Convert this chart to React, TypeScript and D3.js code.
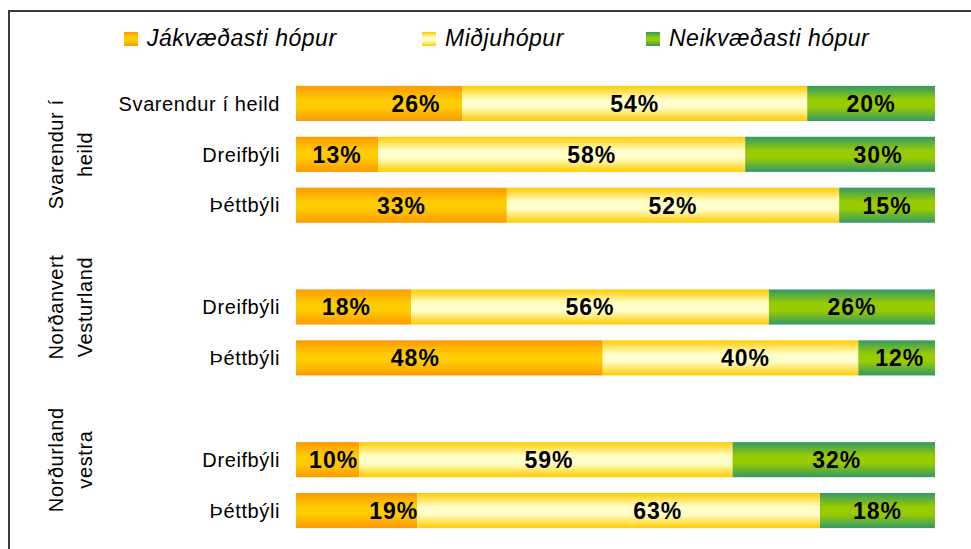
import React from "react";
import * as d3 from "d3";

const rowLabels = ["Svarendur í heild", "Dreifbýli", "Þéttbýli", "", "Dreifbýli", "Þéttbýli", "", "Dreifbýli", "Þéttbýli"];
const seriesNames = ["Jákvæðasti hópur", "Miðjuhópur", "Neikvæðasti hópur"];
const positive = [26, 13, 33, null, 18, 48, null, 10, 19];
const middle = [54, 58, 52, null, 56, 40, null, 59, 63];
const negative = [20, 30, 15, null, 26, 12, null, 32, 18];
const groupLabels = [["Svarendur í", "heild"], ["Norðanvert", "Vesturland"], ["Norðurland", "vestra"]];
const groupRows = [[0, 2], [3, 5], [6, 8]];

// manual label nudges (px) seen in the reference
const LABEL_NUDGE = [
  [37, 0, 0], [0, 30, 38], [0, 0, 0], [0, 0, 0], [-7, 0, 0],
  [-34, 15, 3], [0, 0, 0], [6, 3, 3], [37, 39, 0],
];

const W = 971, H = 549;
const FONT = "'Liberation Sans', Arial, Helvetica, sans-serif";
const gradIds = ["gOrange", "gYellow", "gGreen"];
const gradColors = [["#FF9900", "#FFCC00"], ["#FFCC00", "#FFFFCC"], ["#339966", "#99CC00"]];

export default function App() {
  const x = d3.scaleLinear().domain([0, 1]).range([296, 935]);
  const y = d3.scaleBand<number>().domain(d3.range(rowLabels.length)).range([78, 536]).paddingInner(0.31).paddingOuter(0.155);

  const table = rowLabels.map((_, i) => ({ i, a: positive[i] ?? 0, b: middle[i] ?? 0, c: negative[i] ?? 0 }));
  const stack = d3.stack<any>().keys(["a", "b", "c"]).offset(d3.stackOffsetExpand);
  const layers = stack(table.filter(d => positive[d.i] != null));
  const valuesBySeries = [positive, middle, negative];

  const legendSq = [124, 422, 646];

  return (
    <svg width={W} height={H} style={{ position: "absolute", left: 0, top: 0 }} fontFamily={FONT}>
      <defs>
        {gradIds.map((id, k) => (
          <linearGradient key={id} id={id} x1="0" y1="0" x2="0" y2="1">
            <stop offset="0" stopColor={gradColors[k][0]} />
            <stop offset="0.4" stopColor={gradColors[k][1]} />
            <stop offset="0.6" stopColor={gradColors[k][1]} />
            <stop offset="1" stopColor={gradColors[k][0]} />
          </linearGradient>
        ))}
      </defs>
      <rect x={0} y={0} width={W} height={H} fill="#fff" />
      <rect x={9} y={11} width={1000} height={600} fill="none" stroke="#3a3a3a" strokeWidth={2} />

      {/* legend */}
      {seriesNames.map((s, k) => (
        <g key={s}>
          <rect x={legendSq[k]} y={32} width={14} height={14} fill={`url(#${gradIds[k]})`} />
          <text x={legendSq[k] + 23} y={46} fontSize={23} fontStyle="italic" letterSpacing={0.5} fill="#000">{s}</text>
        </g>
      ))}

      {/* bars */}
      {layers.map((layer, k) =>
        layer.map((seg: any) => {
          const i = seg.data.i;
          const x0 = x(seg[0]), x1 = x(seg[1]);
          const yy = y(i)!;
          const v = valuesBySeries[k][i];
          return (
            <g key={`${k}-${i}`}>
              <rect x={x0} y={yy} width={x1 - x0} height={y.bandwidth()} fill={`url(#${gradIds[k]})`} />
              <text x={(x0 + x1) / 2 + LABEL_NUDGE[i][k]} y={yy + y.bandwidth() / 2} dy="0.36em" textAnchor="middle"
                fontSize={23} fontWeight="bold" letterSpacing={1} fill="#000">{`${v}%`}</text>
            </g>
          );
        })
      )}

      {/* row labels */}
      {rowLabels.map((l, i) => l ? (
        <text key={i} x={280} y={y(i)! + y.bandwidth() / 2} dy="0.36em" textAnchor="end" fontSize={20} letterSpacing={0.6} fill="#000">{l}</text>
      ) : null)}

      {/* group labels */}
      {groupLabels.map((lines, g) => {
        const cy = (y(groupRows[g][0])! + y(groupRows[g][1])! + y.bandwidth()) / 2;
        return (
          <g key={g}>
            {lines.map((t, j) => (
              <text key={j} transform={`translate(${63 + j * 29},${cy}) rotate(-90)`} textAnchor="middle" fontSize={20} letterSpacing={0.6} fill="#000">{t}</text>
            ))}
          </g>
        );
      })}
    </svg>
  );
}
